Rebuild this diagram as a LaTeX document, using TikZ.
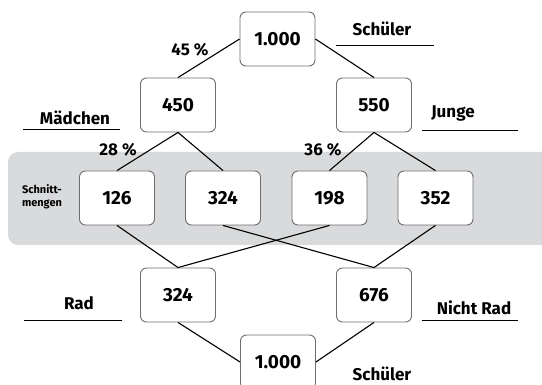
\documentclass[tikz,border=0pt]{standalone}
\usepackage{fontspec}
\setmainfont{Fira Sans}
\definecolor{bandgray}{RGB}{217,218,220}
\definecolor{boxedge}{RGB}{110,110,110}
\begin{document}
\begin{tikzpicture}[x=1pt,y=-1pt,
  numbox/.style={draw=boxedge,line width=0.9pt,fill=white,rounded corners=6pt,
    minimum width=75pt,minimum height=54pt,inner sep=0pt,
    font=\fontsize{19}{19}\selectfont\bfseries},
  lbl/.style={font=\fontsize{17}{17}\selectfont\bfseries,inner sep=0pt},
  pct/.style={font=\fontsize{17}{17}\selectfont\bfseries,inner sep=0pt},
  link/.style={line width=1.1pt},
  uline/.style={line width=0.8pt}]
\clip (0,0) rectangle (542,385);
% shaded band for the intersections
\fill[bandgray,rounded corners=10pt] (8,152) rectangle (560,245);

% boxes
\node[numbox] (top) at (277.5,39) {1.000};
\node[numbox] (m)   at (178,105) {450};
\node[numbox] (j)   at (374,105) {550};
\node[numbox] (mr)  at (117,198) {126};
\node[numbox] (mn)  at (223,198) {324};
\node[numbox] (jr)  at (329.5,198) {198};
\node[numbox] (jn)  at (435.5,198) {352};
\node[numbox] (r)   at (178,295) {324};
\node[numbox] (n)   at (374,295) {676};
\node[numbox] (bot) at (278,362) {1.000};

% connectors
\draw[link] (top.west) -- (m.north);
\draw[link] (top.east) -- (j.north);
\draw[link] (m.south) -- (mr.north);
\draw[link] (m.south) -- (mn.north);
\draw[link] (j.south) -- (jr.north);
\draw[link] (j.south) -- (jn.north);
\draw[link] (mr.south) -- (r.north);
\draw[link] (jr.south) -- (r.north);
\draw[link] (mn.south) -- (n.north);
\draw[link] (jn.south) -- (n.north);
\draw[link] (r.south) -- (bot.west);
\draw[link] (n.south) -- (bot.east);

% percentages
\node[pct] (p45) at (190,50) {45 \%};
\node[pct] (p28) at (118,150) {28 \%};
\node[pct] (p36) at (323,150) {36 \%};

% category labels with rules
\node[lbl] (schueler) at (382,29) {Schüler};
\coordinate (s1) at (336,45); \coordinate (s2) at (434,45);
\draw[uline] (s1) -- (s2);
\node[lbl] (maedchen) at (75,118) {Mädchen};
\coordinate (m1) at (23,129); \coordinate (m2) at (120,129);
\draw[uline] (m1) -- (m2);
\node[lbl] (junge) at (453,113) {Junge};
\coordinate (j1) at (422,130); \coordinate (j2) at (518,130);
\draw[uline] (j1) -- (j2);
\node[lbl] (rad) at (79,303) {Rad};
\coordinate (r1) at (24,320); \coordinate (r2) at (122,320);
\draw[uline] (r1) -- (r2);
\node[lbl] (nichtrad) at (474,308) {Nicht Rad};
\coordinate (n1) at (422,320); \coordinate (n2) at (518,320);
\draw[uline] (n1) -- (n2);
\node[lbl] (schueler2) at (382,374) {Schüler};
\node[font=\fontsize{11}{13}\selectfont\bfseries,align=left,inner sep=0pt] (schnitt) at (42,197) {Schnitt-\\mengen};
\end{tikzpicture}
\end{document}
